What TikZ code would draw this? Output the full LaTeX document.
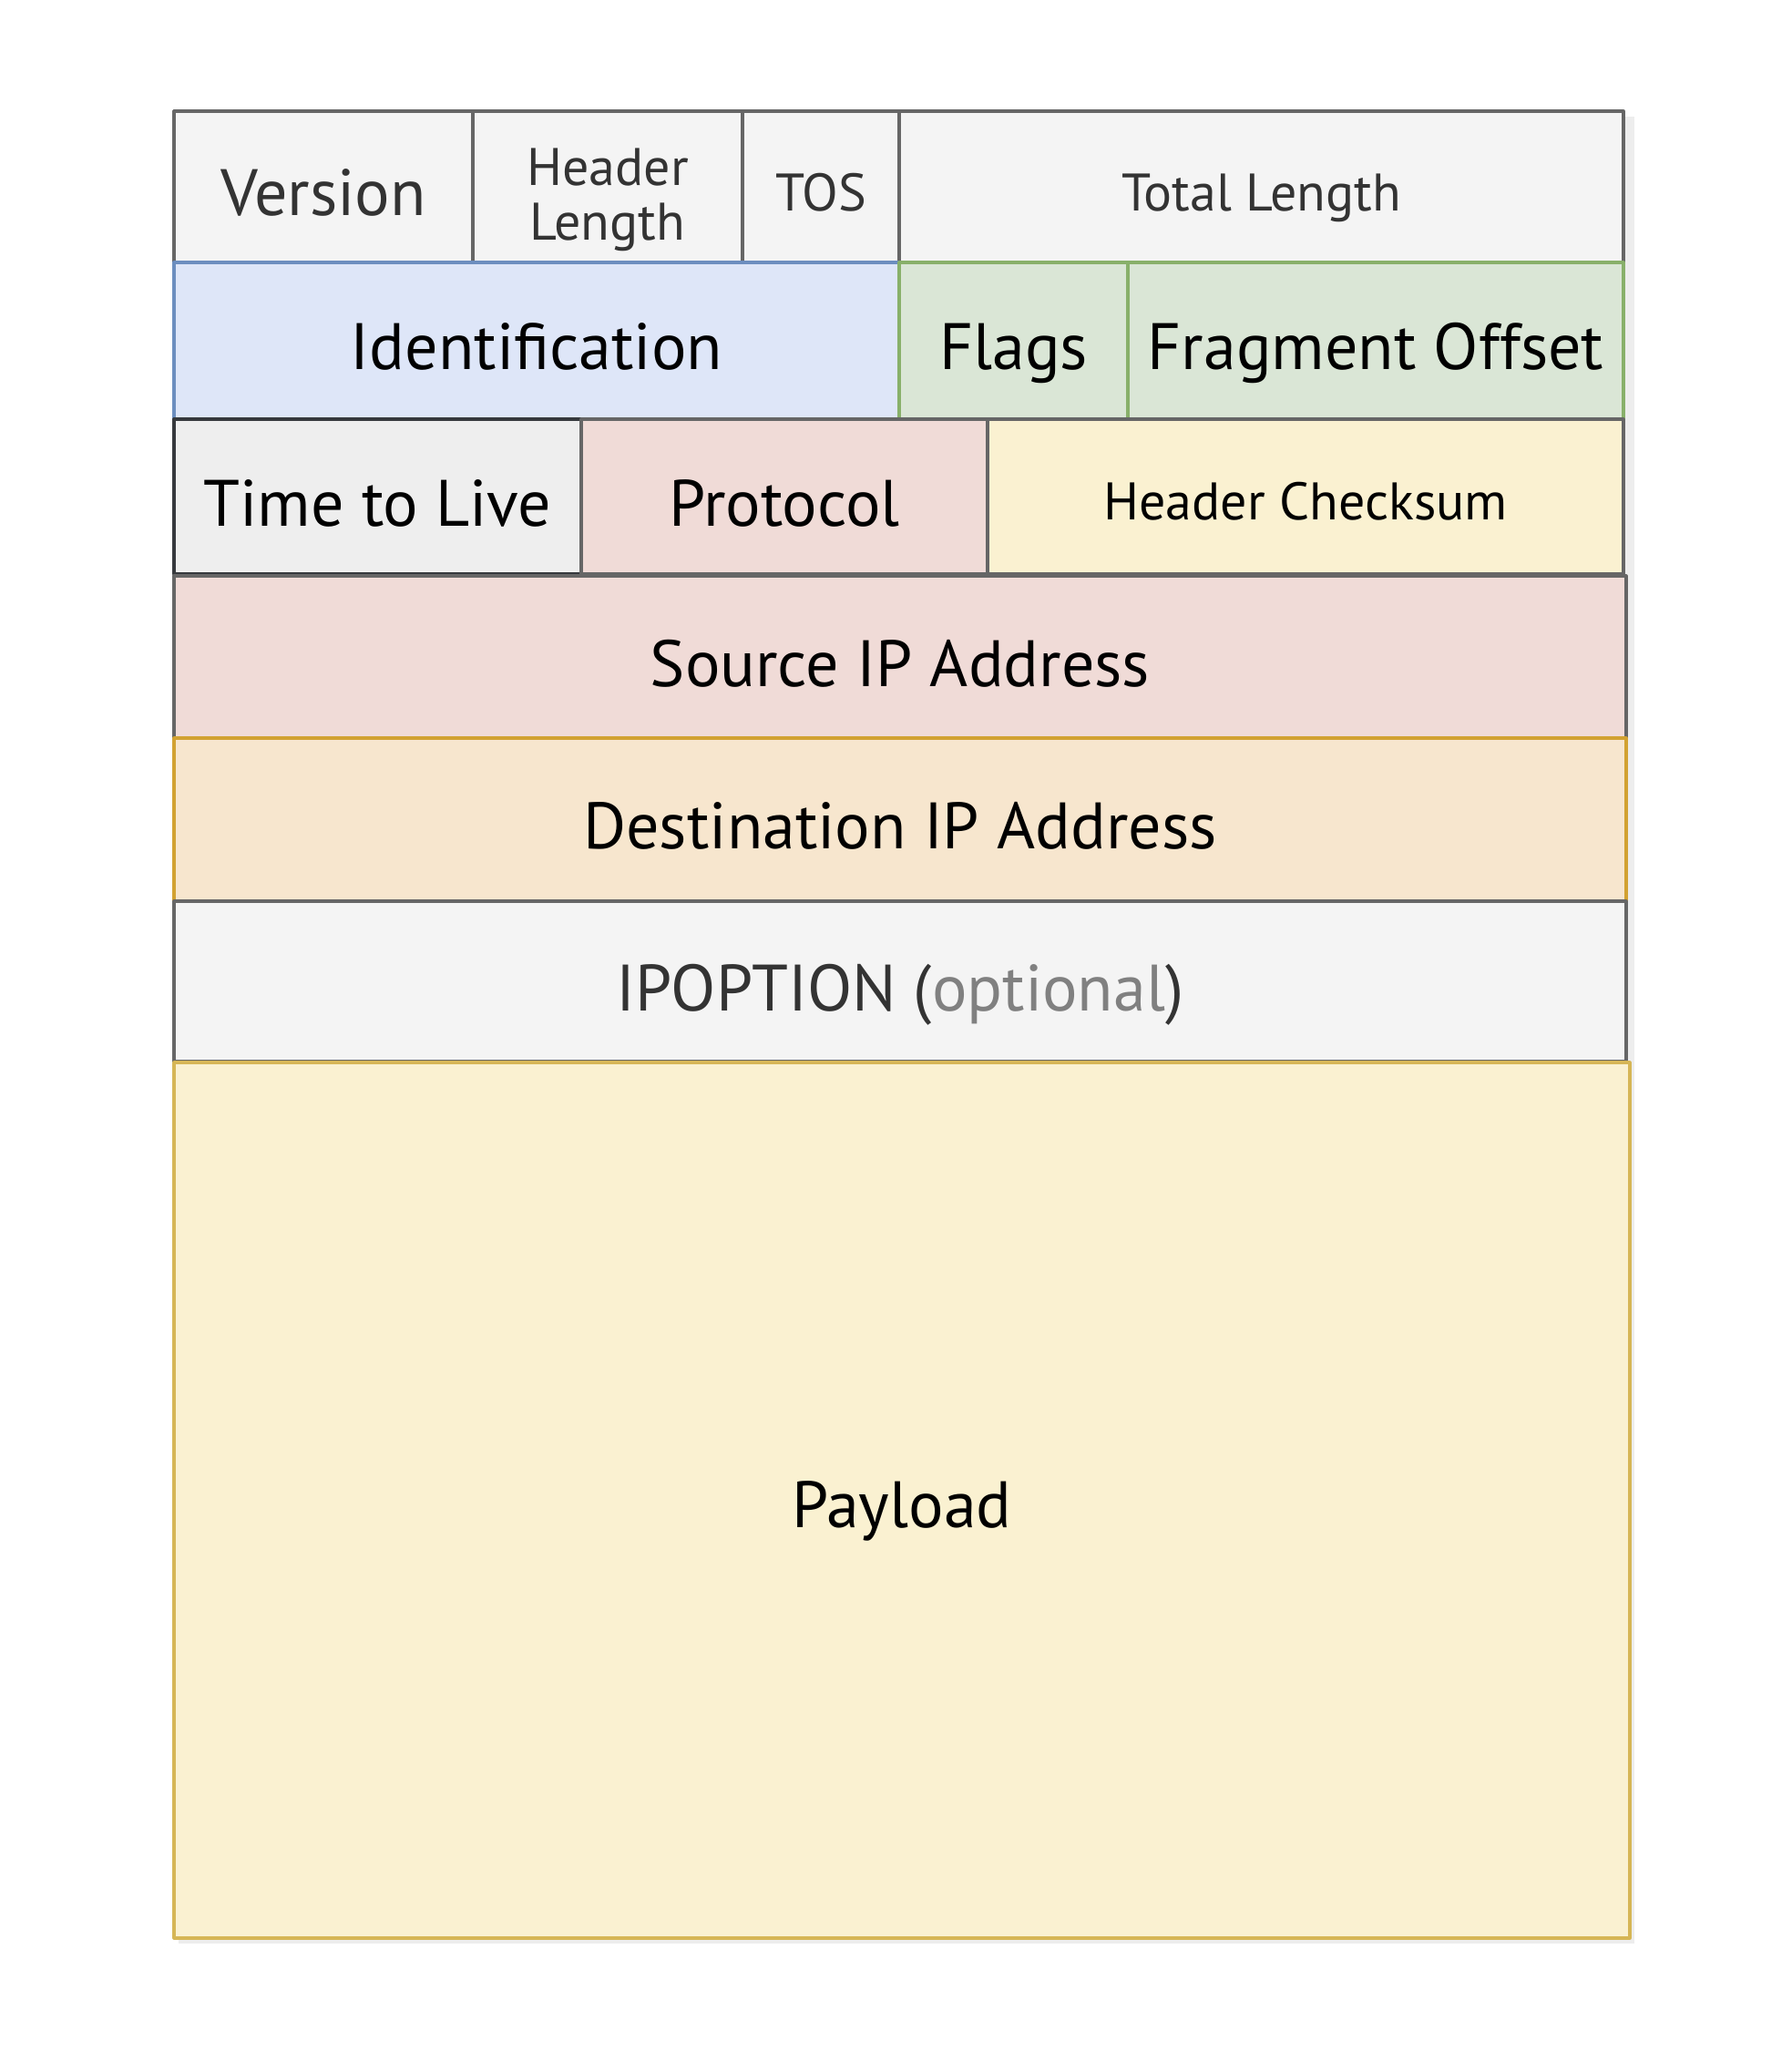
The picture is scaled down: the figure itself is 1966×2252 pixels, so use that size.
\documentclass[tikz,border=0pt]{standalone}
\usepackage{fontspec}
\setmainfont{PT Sans}
\definecolor{gfill}{HTML}{F4F4F4}
\definecolor{gline}{HTML}{666666}
\definecolor{gtext}{HTML}{333333}
\definecolor{optgray}{HTML}{808080}
\definecolor{bfill}{HTML}{DEE6F8}
\definecolor{bline}{HTML}{6C8EBF}
\definecolor{grfill}{HTML}{DAE6D6}
\definecolor{grline}{HTML}{88B06A}
\definecolor{tfill}{HTML}{EEEEEE}
\definecolor{tline}{HTML}{36393D}
\definecolor{rfill}{HTML}{F0DBD7}
\definecolor{yfill}{HTML}{FAF1D1}
\definecolor{yline}{HTML}{D6B656}
\definecolor{ofill}{HTML}{F7E6CE}
\definecolor{oline}{HTML}{D2A232}
\begin{document}
\begin{tikzpicture}[x=0.5pt,y=-0.5pt,
  field/.style={draw, line width=1.6pt, rectangle, inner sep=0pt, outer sep=0pt, anchor=north west, line join=round},
  big/.style={font=\fontsize{36}{43}\selectfont, text height=32pt, text depth=0pt},
  small/.style={font=\fontsize{29}{30}\selectfont, text height=27pt, text depth=0pt},
  grey/.style={field, fill=gfill, draw=gline, text=gtext},
  blue/.style={field, fill=bfill, draw=bline, text=black},
  green/.style={field, fill=grfill, draw=grline, text=black},
  ttl/.style={field, fill=tfill, draw=tline, text=black},
  red/.style={field, fill=rfill, draw=gline, text=black},
  yellowg/.style={field, fill=yfill, draw=gline, text=black},
  orange/.style={field, fill=ofill, draw=oline, text=black},
  payload/.style={field, fill=yfill, draw=yline, text=black},
  shadowbox/.style={fill=black!20, draw=none, opacity=0.35}
]
\useasboundingbox (0,0) rectangle (1966,2252);
% shadow
\fill[shadowbox] (196,128) rectangle (1794,2133);
% row 1
\node[grey, big, minimum width=164pt, minimum height=83pt] (version) at (191,122) {Version};
\node[grey, font=\fontsize{29}{30}\selectfont, minimum width=148pt, minimum height=83pt] (hlen) at (519,122) {\raisebox{-14.5pt}[0pt][0pt]{\begin{tabular}{@{}c@{}}Header\\Length\end{tabular}}};
\node[grey, small, minimum width=86pt, minimum height=83pt] (tos) at (815,122) {TOS};
\node[grey, small, minimum width=397.5pt, minimum height=83pt] (tlen) at (987,122) {Total Length};
% row 2
\node[blue, big, minimum width=398pt, minimum height=86pt] (ident) at (191,288) {Identification};
\node[green, big, minimum width=125.5pt, minimum height=86pt] (flags) at (987,288) {Flags};
\node[green, big, minimum width=272pt, minimum height=86pt] (frag) at (1238,288) {Fragment Offset};
% row 3
\node[ttl, big, minimum width=223.5pt, minimum height=85pt] (ttlnode) at (191,460) {Time to Live};
\node[red, big, minimum width=223pt, minimum height=85pt] (proto) at (638,460) {Protocol};
\node[yellowg, small, text height=25pt, minimum width=349pt, minimum height=85pt] (cksum) at (1084,460) {Header Checksum};
% rows 4-6
\node[red, big, minimum width=797pt, minimum height=89pt] (src) at (191,632) {Source IP Address};
\node[orange, big, minimum width=797pt, minimum height=89.5pt] (dst) at (191,810) {Destination IP Address};
\node[grey, big, minimum width=797pt, minimum height=88pt] (opt) at (191,989) {IPOPTION (\textcolor{optgray}{optional})};
% payload
\node[payload, big, text height=30pt, minimum width=799pt, minimum height=480.5pt] (payload) at (191,1166) {Payload};
\end{tikzpicture}
\end{document}
